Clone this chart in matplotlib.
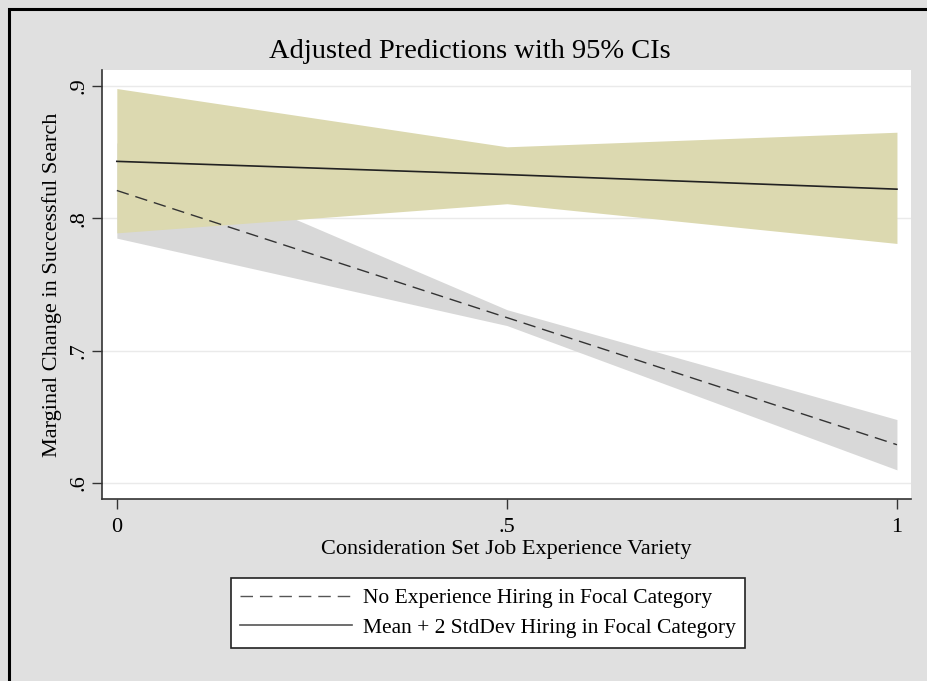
import matplotlib
matplotlib.use("Agg")
import matplotlib.pyplot as plt
from matplotlib.patches import Rectangle

# data (margins at three points)
x_vals = [0, 0.5, 1]

no_exp = [0.821, 0.725, 0.629]
no_exp_lo = [0.785, 0.719, 0.610]
no_exp_hi = [0.857, 0.731, 0.648]

high_exp = [0.843, 0.833, 0.822]
high_exp_lo = [0.789, 0.811, 0.781]
high_exp_hi = [0.898, 0.854, 0.865]

x_ticks = [0, 0.5, 1]
x_ticklabels = ["0", ".5", "1"]
y_ticks = [0.6, 0.7, 0.8, 0.9]
y_ticklabels = [".6", ".7", ".8", ".9"]

plt.rcParams['font.family'] = ['Liberation Serif', 'DejaVu Serif']

W, H = 927, 681
fig = plt.figure(figsize=(W / 100, H / 100), dpi=100)
fig.patch.set_facecolor('#e0e0e0')

# outer frame (only left/top edges show)
fig.patches.append(Rectangle((9 / W, -0.05), 1.3, 1 - 9 / H + 0.05, transform=fig.transFigure,
                             fill=False, edgecolor='black', linewidth=2.2))

ax = fig.add_axes([102 / W, 1 - 499 / H, (911 - 102) / W, (499 - 70) / H])
ax.set_facecolor('white')

# CI bands
ax.fill_between(x_vals, no_exp_lo, no_exp_hi, color='#d8d8d8', linewidth=0, zorder=2)
ax.fill_between(x_vals, high_exp_lo, high_exp_hi, color='#dcd9b0', linewidth=0, zorder=3)

# prediction lines
ax.plot(x_vals, no_exp, color='#333333', linestyle=(0, (9, 5)), linewidth=1.0, zorder=4,
        label='No Experience Hiring in Focal Category')
ax.plot(x_vals, high_exp, color='#222222', linestyle='-', linewidth=1.2, zorder=4,
        label='Mean + 2 StdDev Hiring in Focal Category')

ax.set_xlim(-0.019, 1.018)
ax.set_ylim(0.588, 0.912)

ax.set_xticks(x_ticks)
ax.set_xticklabels(x_ticklabels, fontsize=16)
ax.set_yticks(y_ticks)
ax.set_yticklabels(y_ticklabels, fontsize=16, rotation=90, va='center')
ax.tick_params(axis='both', direction='out', length=7, width=1.0, color='#333333')
ax.tick_params(axis='x', pad=7)
ax.tick_params(axis='y', pad=3)

ax.grid(axis='y', color='#eaeaea', linewidth=1.0, zorder=1)
ax.set_axisbelow(True)

for side in ['top', 'right']:
    ax.spines[side].set_visible(False)
for side in ['left', 'bottom']:
    ax.spines[side].set_color('#333333')
    ax.spines[side].set_linewidth(1.2)

ax.set_xlabel('Consideration Set Job Experience Variety', fontsize=16, labelpad=2)
ax.set_ylabel('Marginal Change in Successful Search', fontsize=16, labelpad=5)

fig.text(470 / W, 1 - 52 / H, 'Adjusted Predictions with 95% CIs', fontsize=20.5,
         ha='center', va='center')

leg = fig.legend(loc='center', bbox_to_anchor=(488 / W, 1 - 613 / H), fontsize=15.5,
                 frameon=True, fancybox=False, edgecolor='#222222', handlelength=5.2,
                 handletextpad=0.5, borderpad=0.45, labelspacing=0.45, borderaxespad=0)
leg.get_frame().set_linewidth(1.2)
leg.get_frame().set_facecolor('white')
leg.get_frame().set_alpha(1)
for line in leg.get_lines():
    line.set_color('#555555')

fig.savefig('out.png', dpi=100, facecolor=fig.get_facecolor())
